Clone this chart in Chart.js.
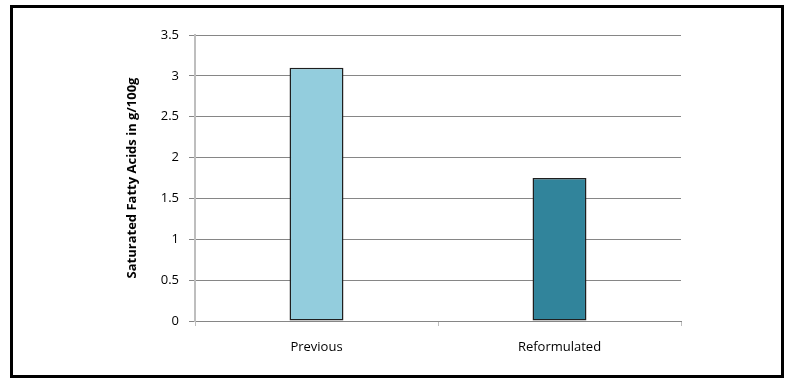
<!DOCTYPE html>
<html>
<head>
<meta charset="utf-8">
<script src="https://cdn.jsdelivr.net/npm/chart.js@4"></script>
<style>
  html, body { margin: 0; padding: 0; background: #fff; }
  #wrap { position: relative; width: 791px; height: 383px; }
  #frame { position: absolute; left: 10px; top: 5px; width: 768px; height: 367px; border: 3px solid #000; pointer-events: none; }
  canvas { position: absolute; left: 0; top: 0; }
</style>
</head>
<body>
<div id="wrap">
  <canvas id="c" width="791" height="383"></canvas>
  <div id="frame"></div>
</div>
<script>
const categories = ["Previous", "Reformulated"];
const values = [3.1, 1.75];
const barColors = ["#93CDDD", "#31849B"];
const yTicks = [0, 0.5, 1, 1.5, 2, 2.5, 3, 3.5];
const yTitle = "Saturated Fatty Acids in g/100g";

const FONT = "'Open Sans', sans-serif";

new Chart(document.getElementById("c"), {
  type: "bar",
  data: {
    labels: categories,
    datasets: [{
      data: values,
      backgroundColor: barColors,
      borderColor: "#1f1f1f",
      borderWidth: 1.5,
      borderSkipped: false,
      categoryPercentage: 1,
      barPercentage: 0.222
    }]
  },
  options: {
    responsive: false,
    animation: false,
    events: [],
    layout: { padding: { left: 122, right: 110, top: 35, bottom: 0 } },
    plugins: { legend: { display: false }, tooltip: { enabled: false } },
    scales: {
      x: {
        offset: true,
        grid: {
          offset: true,
          drawOnChartArea: false,
          color: "#BEBEBE",
          tickLength: 5
        },
        border: { color: "#868686", width: 1 },
        ticks: { color: "#000", font: { family: FONT, size: 13 }, padding: 13 },
        afterFit: (s) => { s.height = 383 - 321; }
      },
      y: {
        min: 0, max: 3.5,
        afterBuildTicks: (s) => { s.ticks = yTicks.map(v => ({ value: v })); },
        grid: { color: "#868686", tickLength: 6, tickColor: "#868686" },
        border: { color: "#BEBEBE", width: 2 },
        ticks: { color: "#000", font: { family: FONT, size: 13 }, padding: 10, callback: (v) => String(v) },
        title: { display: true, text: yTitle, color: "#000", font: { family: FONT, size: 13, weight: "bold" }, padding: 2 },
        afterFit: (s) => { s.width = 73; }
      }
    }
  }
});
</script>
</body>
</html>
